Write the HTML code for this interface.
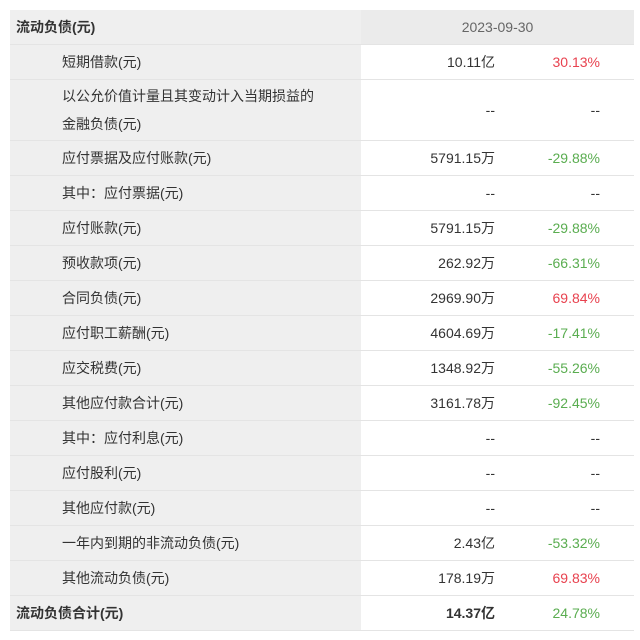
<!DOCTYPE html>
<html><head><meta charset="utf-8"><style>
body{margin:0;width:640px;height:640px;background:#fff;font-family:"Liberation Sans","Noto Sans CJK SC",sans-serif;color:#333;font-size:14px;overflow:hidden}
.t{position:absolute;left:10px;top:10px;width:624px}
.r{display:flex;border-bottom:1px solid #e4e4e4;height:34px}
.l{width:351px;background:#efefef;display:flex;align-items:center;padding-left:52px;box-sizing:border-box}
.v{width:273px;position:relative;background:#fff}
.v span{position:absolute;top:50%;transform:translateY(-50%);white-space:nowrap}
.a{right:139px}.p{right:34px}
.red{color:#e8424f}.grn{color:#5aad50}
.h .l{padding-left:6px;font-weight:bold}
.h .v{background:#ebebeb;display:flex;align-items:center;justify-content:center;color:#666}
</style></head><body><div class="t">
<div class="r h"><div class="l">流动负债(元)</div><div class="v">2023-09-30</div></div>
<div class="r"><div class="l">短期借款(元)</div><div class="v"><span class="a">10.11亿</span><span class="p red">30.13%</span></div></div>
<div class="r" style="height:60px"><div class="l" style="line-height:28px">以公允价值计量且其变动计入当期损益的<br>金融负债(元)</div><div class="v"><span class="a">--</span><span class="p">--</span></div></div>
<div class="r"><div class="l">应付票据及应付账款(元)</div><div class="v"><span class="a">5791.15万</span><span class="p grn">-29.88%</span></div></div>
<div class="r"><div class="l">其中：应付票据(元)</div><div class="v"><span class="a">--</span><span class="p">--</span></div></div>
<div class="r"><div class="l">应付账款(元)</div><div class="v"><span class="a">5791.15万</span><span class="p grn">-29.88%</span></div></div>
<div class="r"><div class="l">预收款项(元)</div><div class="v"><span class="a">262.92万</span><span class="p grn">-66.31%</span></div></div>
<div class="r"><div class="l">合同负债(元)</div><div class="v"><span class="a">2969.90万</span><span class="p red">69.84%</span></div></div>
<div class="r"><div class="l">应付职工薪酬(元)</div><div class="v"><span class="a">4604.69万</span><span class="p grn">-17.41%</span></div></div>
<div class="r"><div class="l">应交税费(元)</div><div class="v"><span class="a">1348.92万</span><span class="p grn">-55.26%</span></div></div>
<div class="r"><div class="l">其他应付款合计(元)</div><div class="v"><span class="a">3161.78万</span><span class="p grn">-92.45%</span></div></div>
<div class="r"><div class="l">其中：应付利息(元)</div><div class="v"><span class="a">--</span><span class="p">--</span></div></div>
<div class="r"><div class="l">应付股利(元)</div><div class="v"><span class="a">--</span><span class="p">--</span></div></div>
<div class="r"><div class="l">其他应付款(元)</div><div class="v"><span class="a">--</span><span class="p">--</span></div></div>
<div class="r"><div class="l">一年内到期的非流动负债(元)</div><div class="v"><span class="a">2.43亿</span><span class="p grn">-53.32%</span></div></div>
<div class="r"><div class="l">其他流动负债(元)</div><div class="v"><span class="a">178.19万</span><span class="p red">69.83%</span></div></div>
<div class="r h"><div class="l">流动负债合计(元)</div><div class="v" style="background:#fff"><span class="a" style="font-weight:bold;color:#333">14.37亿</span><span class="p grn" style="font-weight:normal">24.78%</span></div></div>
</div></body></html>
